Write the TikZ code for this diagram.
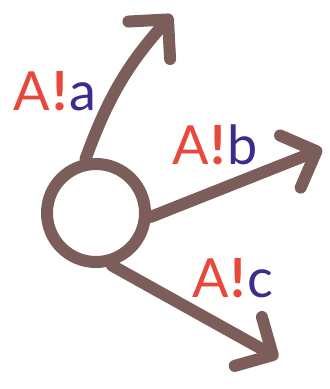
\documentclass[tikz,border=0pt]{standalone}
\usepackage{fontspec}
\setmainfont{Lato}
\usetikzlibrary{arrows.meta}
\definecolor{brownx}{HTML}{7B5E5A}
\definecolor{redx}{HTML}{E8473B}
\definecolor{bluex}{HTML}{3D2B8E}
\tikzset{
  ar/.style={-{Straight Barb[length=14pt,width=28pt,line width=6pt,round]},line width=6pt,brownx,line cap=round},
  hub/.style={circle,draw=brownx,line width=6pt,minimum size=49pt,inner sep=0pt},
  lbl/.style={font=\fontsize{27}{27}\selectfont,inner sep=0pt}
}
\newcommand{\msg}[1]{\textcolor{redx}{A\kern1pt\textbf{!}\kern1pt}\textcolor{bluex}{#1}}

\begin{document}
\begin{tikzpicture}[x=0.5pt,y=-0.5pt]
\useasboundingbox (0,0) rectangle (329,389);
\node[hub] (ring) at (96,213) {};
\coordinate (ta) at (172,15);
\coordinate (tb) at (322,149);
\coordinate (tc) at (278,358);
\draw[ar] (ring.101) to[bend left=11] (ta);
\draw[ar] (ring.-4) -- (tb);
\draw[ar] (ring.-73) -- (tc);
\node[lbl] (la) at (55,91) {\msg{a}};
\node[lbl] (lb) at (215,145) {\msg{b}};
\node[lbl] (lc) at (233,278) {\msg{c}};
\end{tikzpicture}
\end{document}
